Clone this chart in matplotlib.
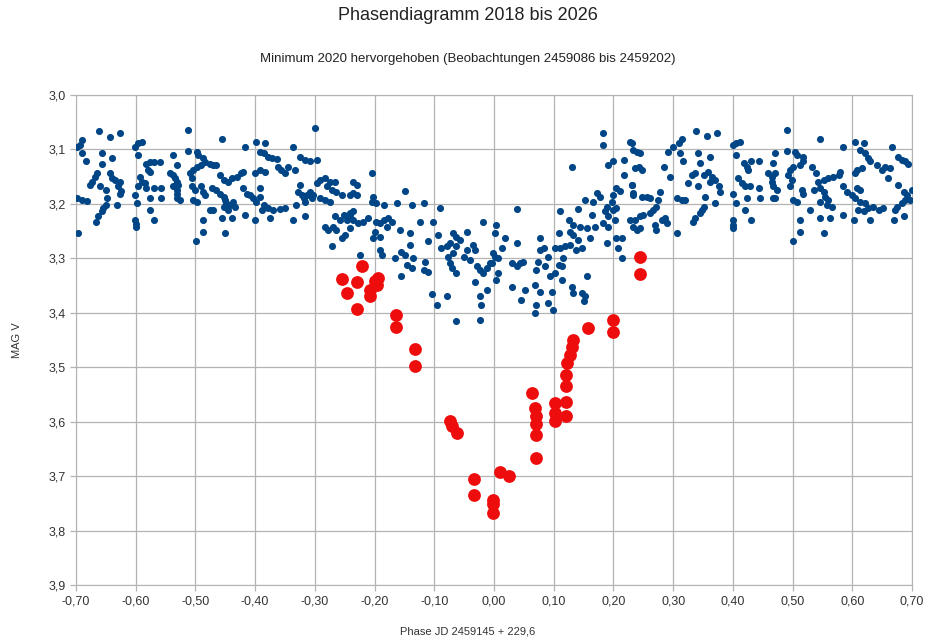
import numpy as np
import matplotlib.pyplot as plt
from matplotlib.ticker import FuncFormatter

plt.rcParams['font.family'] = ['Liberation Sans', 'DejaVu Sans']

obs_far_left = [
    (-0.661, 3.067), (-0.643, 3.078), (-0.626, 3.070), (-0.690, 3.083), (-0.694, 3.092),
    (-0.699, 3.095), (-0.690, 3.107), (-0.683, 3.122), (-0.657, 3.107), (-0.639, 3.115),
    (-0.657, 3.127), (-0.665, 3.144), (-0.668, 3.150), (-0.674, 3.159), (-0.677, 3.165),
    (-0.660, 3.168), (-0.643, 3.144), (-0.640, 3.153), (-0.635, 3.156), (-0.626, 3.159),
    (-0.629, 3.168), (-0.624, 3.176), (-0.626, 3.181), (-0.650, 3.175), (-0.699, 3.190),
    (-0.690, 3.193), (-0.682, 3.194), (-0.648, 3.190), (-0.650, 3.202), (-0.654, 3.208),
    (-0.657, 3.214), (-0.663, 3.223), (-0.666, 3.233), (-0.631, 3.202), (-0.696, 3.254),
    (-0.596, 3.089), (-0.590, 3.086), (-0.601, 3.095), (-0.596, 3.110), (-0.582, 3.126),
    (-0.576, 3.123), (-0.570, 3.124), (-0.559, 3.123), (-0.579, 3.138), (-0.576, 3.141),
    (-0.593, 3.150), (-0.590, 3.159), (-0.584, 3.162), (-0.596, 3.168), (-0.582, 3.171),
    (-0.570, 3.171), (-0.557, 3.171), (-0.601, 3.184), (-0.576, 3.190), (-0.557, 3.190),
    (-0.598, 3.199), (-0.576, 3.211), (-0.570, 3.230), (-0.601, 3.230), (-0.600, 3.237),
    (-0.600, 3.243), (-0.537, 3.110), (-0.531, 3.129), (-0.512, 3.064), (-0.512, 3.102),
    (-0.498, 3.104), (-0.495, 3.110), (-0.487, 3.116), (-0.484, 3.123), (-0.490, 3.129),
    (-0.498, 3.132), (-0.504, 3.138), (-0.509, 3.144), (-0.537, 3.147), (-0.534, 3.153),
    (-0.531, 3.159), (-0.529, 3.165), (-0.531, 3.175), (-0.531, 3.181), (-0.531, 3.190),
    (-0.526, 3.193), (-0.543, 3.144), (-0.537, 3.168), (-0.506, 3.153), (-0.506, 3.168),
    (-0.501, 3.175), (-0.490, 3.168), (-0.487, 3.178), (-0.484, 3.184), (-0.504, 3.193),
    (-0.498, 3.196), (-0.476, 3.211), (-0.487, 3.230), (-0.487, 3.251), (-0.499, 3.269),
    (-0.476, 3.126), (-0.470, 3.129), (-0.473, 3.171),
]

obs_left = [
    (-0.455, 3.081), (-0.417, 3.095), (-0.398, 3.086), (-0.384, 3.088), (-0.392, 3.104),
    (-0.386, 3.107), (-0.378, 3.113), (-0.372, 3.116), (-0.364, 3.118), (-0.336, 3.095),
    (-0.325, 3.113), (-0.317, 3.119), (-0.308, 3.122), (-0.297, 3.119), (-0.300, 3.061),
    (-0.465, 3.129), (-0.459, 3.147), (-0.453, 3.156), (-0.445, 3.159), (-0.439, 3.153),
    (-0.431, 3.150), (-0.423, 3.144), (-0.420, 3.141), (-0.465, 3.174), (-0.459, 3.181),
    (-0.453, 3.187), (-0.451, 3.193), (-0.448, 3.199), (-0.453, 3.205), (-0.442, 3.202),
    (-0.437, 3.196), (-0.434, 3.205), (-0.445, 3.211), (-0.470, 3.211), (-0.456, 3.226),
    (-0.439, 3.226), (-0.451, 3.254), (-0.420, 3.171), (-0.414, 3.181), (-0.409, 3.184),
    (-0.403, 3.190), (-0.392, 3.171), (-0.392, 3.187), (-0.398, 3.196), (-0.386, 3.202),
    (-0.389, 3.211), (-0.378, 3.208), (-0.370, 3.211), (-0.358, 3.210), (-0.350, 3.208),
    (-0.375, 3.226), (-0.417, 3.220), (-0.400, 3.230), (-0.400, 3.144), (-0.392, 3.138),
    (-0.384, 3.141), (-0.361, 3.132), (-0.356, 3.138), (-0.350, 3.144), (-0.345, 3.132),
    (-0.333, 3.138), (-0.325, 3.165), (-0.328, 3.178), (-0.322, 3.184), (-0.319, 3.190),
    (-0.314, 3.184), (-0.308, 3.178), (-0.305, 3.190), (-0.331, 3.202), (-0.317, 3.196),
    (-0.336, 3.230), (-0.317, 3.223), (-0.297, 3.162), (-0.292, 3.156), (-0.283, 3.153),
    (-0.275, 3.159), (-0.266, 3.159), (-0.280, 3.168), (-0.272, 3.174), (-0.264, 3.178),
    (-0.255, 3.184), (-0.241, 3.184), (-0.292, 3.190), (-0.283, 3.193), (-0.275, 3.196),
    (-0.303, 3.184), (-0.266, 3.223), (-0.258, 3.230), (-0.252, 3.220), (-0.247, 3.230),
    (-0.241, 3.217), (-0.236, 3.214), (-0.283, 3.242), (-0.278, 3.248), (-0.269, 3.242),
    (-0.264, 3.248), (-0.255, 3.263), (-0.250, 3.257), (-0.272, 3.278), (-0.241, 3.245),
]

obs_dip_left = [
    (-0.205, 3.144), (-0.236, 3.159), (-0.230, 3.165), (-0.236, 3.180), (-0.230, 3.184),
    (-0.202, 3.187), (-0.205, 3.196), (-0.197, 3.199), (-0.185, 3.202), (-0.149, 3.177),
    (-0.163, 3.199), (-0.138, 3.202), (-0.118, 3.198), (-0.091, 3.208), (-0.241, 3.220),
    (-0.236, 3.229), (-0.227, 3.236), (-0.219, 3.233), (-0.211, 3.226), (-0.197, 3.233),
    (-0.191, 3.236), (-0.185, 3.229), (-0.177, 3.226), (-0.171, 3.233), (-0.199, 3.251),
    (-0.202, 3.263), (-0.191, 3.260), (-0.180, 3.242), (-0.157, 3.248), (-0.141, 3.254),
    (-0.124, 3.233), (-0.102, 3.233), (-0.110, 3.269), (-0.093, 3.257), (-0.141, 3.275),
    (-0.191, 3.285), (-0.188, 3.294), (-0.166, 3.300), (-0.155, 3.288), (-0.149, 3.294),
    (-0.146, 3.312), (-0.138, 3.318), (-0.135, 3.300), (-0.116, 3.306), (-0.118, 3.321),
    (-0.110, 3.326), (-0.155, 3.332), (-0.088, 3.281), (-0.079, 3.278), (-0.074, 3.272),
    (-0.068, 3.254), (-0.063, 3.260), (-0.057, 3.266), (-0.063, 3.278), (-0.068, 3.291),
    (-0.077, 3.297), (-0.074, 3.309), (-0.071, 3.318), (-0.063, 3.327), (-0.046, 3.251),
    (-0.046, 3.284), (-0.051, 3.297), (-0.040, 3.303), (-0.035, 3.275), (-0.032, 3.284),
    (-0.029, 3.315), (-0.024, 3.321), (-0.018, 3.327), (-0.012, 3.318), (-0.007, 3.309),
    (-0.018, 3.233), (-0.001, 3.291), (-0.032, 3.343), (-0.012, 3.358), (-0.104, 3.365),
    (-0.079, 3.370), (-0.096, 3.385), (-0.024, 3.370), (-0.021, 3.385), (-0.063, 3.416),
    (-0.024, 3.413), (-0.225, 3.294),
]

obs_dip_right = [
    (0.182, 3.069), (0.182, 3.092), (0.228, 3.087), (0.233, 3.101), (0.217, 3.119),
    (0.200, 3.122), (0.191, 3.128), (0.130, 3.132), (0.217, 3.147), (0.231, 3.165),
    (0.233, 3.180), (0.205, 3.171), (0.211, 3.177), (0.200, 3.184), (0.172, 3.180),
    (0.177, 3.187), (0.166, 3.196), (0.152, 3.193), (0.197, 3.196), (0.189, 3.205),
    (0.186, 3.214), (0.200, 3.211), (0.205, 3.208), (0.191, 3.223), (0.203, 3.229),
    (0.228, 3.229), (0.183, 3.236), (0.191, 3.242), (0.038, 3.210), (0.111, 3.214),
    (0.141, 3.210), (0.164, 3.220), (0.125, 3.229), (0.133, 3.239), (0.144, 3.242),
    (0.155, 3.245), (0.169, 3.242), (0.127, 3.251), (0.133, 3.257), (0.108, 3.254),
    (0.141, 3.266), (0.161, 3.263), (0.189, 3.272), (0.205, 3.263), (0.214, 3.263),
    (0.208, 3.281), (0.214, 3.300), (0.003, 3.239), (0.002, 3.254), (0.018, 3.263),
    (0.038, 3.272), (0.077, 3.263), (0.013, 3.281), (0.002, 3.297), (0.007, 3.300),
    (-0.004, 3.309), (0.030, 3.309), (0.044, 3.309), (0.049, 3.306), (0.038, 3.315),
    (0.077, 3.285), (0.083, 3.281), (0.091, 3.297), (0.074, 3.306), (0.071, 3.321),
    (0.085, 3.315), (0.102, 3.281), (0.111, 3.281), (0.119, 3.278), (0.127, 3.275),
    (0.138, 3.285), (0.147, 3.281), (0.116, 3.300), (0.108, 3.312), (0.113, 3.315),
    (0.102, 3.327), (0.094, 3.333), (0.155, 3.333), (0.007, 3.327), (0.004, 3.340),
    (0.030, 3.352), (0.052, 3.358), (0.046, 3.376), (0.069, 3.349), (0.077, 3.361),
    (0.097, 3.361), (0.113, 3.340), (0.130, 3.352), (0.133, 3.364), (0.147, 3.364),
    (0.152, 3.370), (0.150, 3.379), (0.071, 3.385), (0.069, 3.401), (0.091, 3.382),
    (0.099, 3.395),
]

obs_right = [
    (0.231, 3.089), (0.239, 3.104), (0.245, 3.107), (0.242, 3.132), (0.236, 3.135),
    (0.247, 3.138), (0.284, 3.132), (0.295, 3.150), (0.231, 3.165), (0.233, 3.184),
    (0.247, 3.187), (0.256, 3.187), (0.261, 3.190), (0.278, 3.178), (0.275, 3.193),
    (0.272, 3.205), (0.267, 3.211), (0.261, 3.217), (0.250, 3.220), (0.245, 3.223),
    (0.236, 3.230), (0.233, 3.242), (0.239, 3.248), (0.245, 3.245), (0.270, 3.239),
    (0.281, 3.230), (0.286, 3.226), (0.289, 3.236), (0.272, 3.248), (0.306, 3.253),
    (0.292, 3.104), (0.300, 3.095), (0.309, 3.089), (0.314, 3.080), (0.312, 3.107),
    (0.317, 3.122), (0.339, 3.067), (0.356, 3.076), (0.374, 3.070), (0.342, 3.107),
    (0.345, 3.125), (0.362, 3.114), (0.331, 3.147), (0.337, 3.144), (0.325, 3.162),
    (0.342, 3.168), (0.351, 3.147), (0.359, 3.141), (0.365, 3.150), (0.370, 3.156),
    (0.376, 3.168), (0.378, 3.178), (0.362, 3.159), (0.306, 3.190), (0.314, 3.193),
    (0.320, 3.193), (0.353, 3.187), (0.351, 3.205), (0.348, 3.211), (0.345, 3.217),
    (0.337, 3.226), (0.334, 3.233), (0.370, 3.199), (0.401, 3.092), (0.406, 3.088),
    (0.412, 3.086), (0.406, 3.110), (0.418, 3.125), (0.423, 3.132), (0.426, 3.138),
    (0.431, 3.122), (0.443, 3.122), (0.409, 3.153), (0.415, 3.162), (0.420, 3.168),
    (0.429, 3.168), (0.443, 3.171), (0.401, 3.181), (0.406, 3.199), (0.423, 3.190),
    (0.445, 3.190), (0.420, 3.211), (0.431, 3.230), (0.401, 3.230), (0.401, 3.239),
    (0.401, 3.245), (0.459, 3.144), (0.465, 3.150), (0.468, 3.168), (0.468, 3.190),
]

obs_far_right = [
    (0.490, 3.064), (0.546, 3.081), (0.490, 3.102), (0.504, 3.104), (0.507, 3.110),
    (0.518, 3.113), (0.518, 3.122), (0.513, 3.129), (0.501, 3.132), (0.496, 3.138),
    (0.493, 3.147), (0.499, 3.156), (0.496, 3.168), (0.471, 3.107), (0.468, 3.125),
    (0.471, 3.144), (0.465, 3.159), (0.474, 3.174), (0.471, 3.190), (0.501, 3.193),
    (0.507, 3.196), (0.515, 3.174), (0.518, 3.181), (0.532, 3.132), (0.540, 3.144),
    (0.535, 3.174), (0.543, 3.159), (0.552, 3.156), (0.560, 3.153), (0.568, 3.150),
    (0.577, 3.147), (0.580, 3.141), (0.546, 3.171), (0.552, 3.178), (0.554, 3.187),
    (0.560, 3.193), (0.557, 3.202), (0.566, 3.205), (0.546, 3.196), (0.529, 3.211),
    (0.546, 3.226), (0.563, 3.226), (0.585, 3.220), (0.602, 3.230), (0.513, 3.230),
    (0.513, 3.251), (0.501, 3.269), (0.552, 3.254), (0.585, 3.095), (0.605, 3.086),
    (0.619, 3.088), (0.613, 3.101), (0.621, 3.107), (0.627, 3.116), (0.630, 3.122),
    (0.616, 3.135), (0.607, 3.138), (0.605, 3.144), (0.585, 3.168), (0.591, 3.178),
    (0.599, 3.184), (0.607, 3.171), (0.613, 3.174), (0.605, 3.190), (0.613, 3.196),
    (0.621, 3.199), (0.610, 3.211), (0.619, 3.214), (0.627, 3.208), (0.635, 3.205),
    (0.644, 3.211), (0.652, 3.208), (0.630, 3.230), (0.641, 3.129), (0.649, 3.138),
    (0.655, 3.132), (0.663, 3.135), (0.660, 3.153), (0.677, 3.165), (0.666, 3.095),
    (0.677, 3.113), (0.683, 3.119), (0.688, 3.122), (0.694, 3.126), (0.686, 3.178),
    (0.691, 3.184), (0.688, 3.193), (0.683, 3.199), (0.674, 3.205), (0.672, 3.211),
    (0.669, 3.230), (0.686, 3.223), (0.697, 3.193), (0.700, 3.174),
]

# minimum 2020 (JD 2459086 - 2459202)
min2020_phase = [-0.255, -0.221, -0.230, -0.247, -0.229, -0.194, -0.196, -0.207, -0.208, -0.200,
                 -0.164, -0.164, -0.133, -0.133, -0.073, -0.070, -0.062, -0.033, -0.033, -0.002,
                 -0.002, -0.002, 0.010, 0.025, 0.064, 0.069, 0.070, 0.070, 0.071, 0.071,
                 0.102, 0.102, 0.102, 0.120, 0.120, 0.120, 0.120, 0.122, 0.127, 0.130,
                 0.132, 0.158, 0.200, 0.200, 0.245, 0.245]
min2020_mag = [3.338, 3.315, 3.344, 3.364, 3.393, 3.336, 3.349, 3.358, 3.370, 3.342,
               3.404, 3.426, 3.467, 3.498, 3.599, 3.608, 3.621, 3.705, 3.734, 3.743,
               3.752, 3.768, 3.692, 3.700, 3.547, 3.575, 3.590, 3.605, 3.624, 3.667,
               3.566, 3.584, 3.599, 3.563, 3.590, 3.535, 3.514, 3.492, 3.477, 3.462,
               3.450, 3.428, 3.413, 3.436, 3.298, 3.328]

x_ticks = np.round(np.arange(-0.7, 0.701, 0.1), 2)
y_ticks = np.round(np.arange(3.0, 3.901, 0.1), 1)

all_obs = np.array(obs_far_left + obs_left + obs_dip_left + obs_dip_right + obs_right + obs_far_right)

fig = plt.figure(figsize=(9.36, 6.4), dpi=100)
ax = fig.add_axes([0.0812, 0.0859, 0.8932, 0.7657])

ax.scatter(all_obs[:, 0], all_obs[:, 1], s=26, color='#004586', linewidths=0, zorder=3)
ax.scatter(min2020_phase, min2020_mag, s=85, color='#ee0d0d', linewidths=0, zorder=4)

ax.set_xlim(-0.7, 0.7)
ax.set_ylim(3.9, 3.0)
ax.set_xticks(x_ticks)
ax.set_yticks(y_ticks)
ax.xaxis.set_major_formatter(FuncFormatter(lambda v, p: f"{v:.2f}".replace('.', ',').replace('-0,00', '0,00')))
ax.yaxis.set_major_formatter(FuncFormatter(lambda v, p: f"{v:.1f}".replace('.', ',')))
ax.grid(True, color='#b3b3b3', linewidth=0.9, zorder=0)
ax.set_axisbelow(True)
for sp in ax.spines.values():
    sp.set_color('#b3b3b3')
ax.tick_params(colors='#b3b3b3', length=4, width=0.9, labelsize=9, labelcolor='#333333')

ax.set_ylabel('MAG V', fontsize=8, color='#333333', labelpad=19)

fig.text(0.5, 0.975, 'Phasendiagramm 2018 bis 2026', ha='center', va='center',
         fontsize=13, color='#222222')
fig.text(0.5, 0.908, 'Minimum 2020 hervorgehoben (Beobachtungen 2459086 bis 2459202)',
         ha='center', va='center', fontsize=9.5, color='#222222')
fig.text(0.5, 0.013, 'Phase JD 2459145 + 229,6', ha='center', va='center',
         fontsize=8, color='#333333')

fig.savefig('out.png', dpi=100)
